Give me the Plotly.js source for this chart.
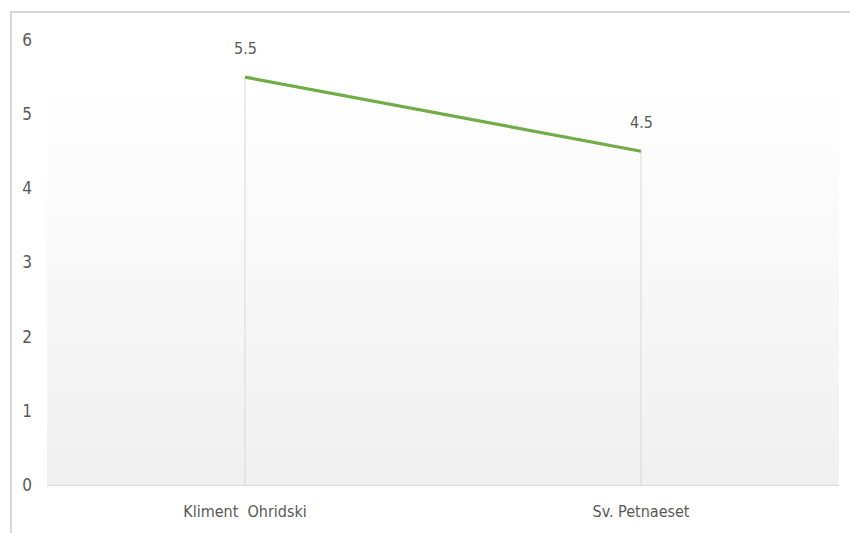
<!DOCTYPE html>
<html>
<head>
<meta charset="utf-8">
<script src="https://cdn.plot.ly/plotly-3.0.1.min.js"></script>
<style>
  html, body { margin: 0; padding: 0; background: #ffffff; }
  #wrap { position: relative; width: 850px; height: 533px; overflow: hidden; }
  #chart { position: absolute; left: 0; top: 0; width: 850px; height: 533px; }
  #frame { position: absolute; left: 10px; top: 11px; width: 860px; height: 560px;
           border: 2px solid #d9d9d9; box-sizing: border-box; pointer-events: none; }
</style>
</head>
<body>
<div id="wrap">
  <div id="chart"></div>
  <div id="frame"></div>
</div>
<script>
// Data
const categories = ["Kliment  Ohridski", "Sv. Petnaeset"];
const values = [5.5, 4.5];
const yTicks = [0, 1, 2, 3, 4, 5, 6];

const fontFam = '"Liberation Sans Narrow", "DejaVu Sans Condensed", "Open Sans", sans-serif';
const textColor = '#595959';

// gradient background as inline SVG image
const gradSvg = '<svg xmlns="http://www.w3.org/2000/svg" width="10" height="100" preserveAspectRatio="none">' +
  '<defs><linearGradient id="g" x1="0" y1="0" x2="0" y2="1">' +
  '<stop offset="0" stop-color="#ffffff"/><stop offset="0.1" stop-color="#ffffff"/>' +
  '<stop offset="1" stop-color="#f0f0f0"/></linearGradient></defs>' +
  '<rect width="10" height="100" fill="url(#g)"/></svg>';
const gradUri = 'data:image/svg+xml;base64,' + btoa(gradSvg);

const traces = [];
// drop lines from each point to the axis
categories.forEach((c, i) => {
  traces.push({
    x: [c, c], y: [0, values[i]], type: 'scatter', mode: 'lines',
    line: { color: '#d9d9d9', width: 1 }, hoverinfo: 'skip', showlegend: false
  });
});
traces.push({
  x: categories, y: values, type: 'scatter', mode: 'lines',
  line: { color: '#70ad47', width: 3.2 }, showlegend: false
});

const annotations = categories.map((c, i) => ({
  x: c, y: values[i], xref: 'x', yref: 'y', text: String(values[i]),
  showarrow: false, yshift: 29, font: { family: fontFam, size: 16, color: textColor }
}));

const layout = {
  width: 850, height: 533,
  margin: { l: 47, r: 11, t: 40, b: 48 },
  paper_bgcolor: 'rgba(0,0,0,0)',
  plot_bgcolor: 'rgba(0,0,0,0)',
  font: { family: fontFam, size: 16, color: textColor },
  xaxis: {
    type: 'category', range: [-0.5, 1.5], showgrid: false, zeroline: false,
    showline: true, linecolor: '#d9d9d9', linewidth: 1, ticks: '',
    ticklabelstandoff: 12,
    tickfont: { family: fontFam, size: 16, color: textColor }
  },
  yaxis: {
    range: [0, 6], tickvals: yTicks, showgrid: false, zeroline: false,
    showline: false, ticks: '', ticklabelstandoff: 14,
    tickfont: { family: fontFam, size: 17, color: textColor }
  },
  images: [{
    source: gradUri, xref: 'paper', yref: 'paper', x: 0, y: 1,
    sizex: 1, sizey: 1, xanchor: 'left', yanchor: 'top',
    sizing: 'stretch', layer: 'below'
  }],
  annotations: annotations
};

Plotly.newPlot('chart', traces, layout, { displayModeBar: false, staticPlot: true });
</script>
</body>
</html>
